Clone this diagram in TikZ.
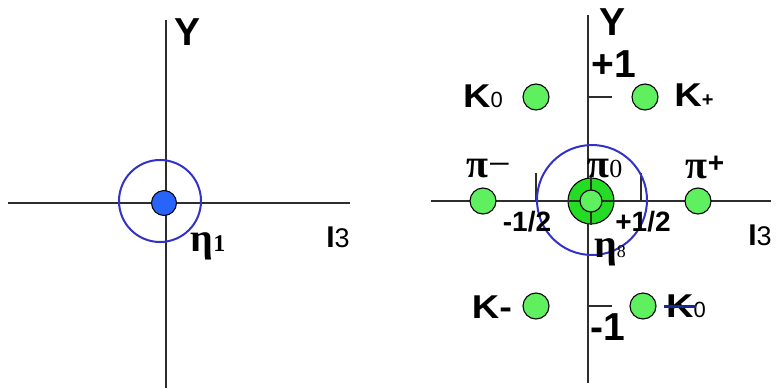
\documentclass[tikz,border=0pt]{standalone}
\usepackage{fontspec}
\setmainfont{Liberation Sans}
\newfontfamily\greekfont{Liberation Serif}
\newfontfamily\widefont[FakeStretch=1.15]{Liberation Sans}
\newfontfamily\plainfont{Liberation Sans}
\usetikzlibrary{positioning}

\definecolor{axisgray}{RGB}{45,45,45}
\definecolor{ringblue}{RGB}{50,50,200}
\definecolor{dotblue}{RGB}{40,100,250}
\definecolor{mesongreen}{RGB}{95,240,95}
\definecolor{coregreen}{RGB}{35,220,35}
\definecolor{barblue}{RGB}{20,40,150}

\newcommand{\bigf}[1]{\fontsize{#1}{#1}\selectfont}

\begin{document}
\begin{tikzpicture}[x=1pt, y=-1pt,
    axis/.style={draw=axisgray, line width=2.5pt},
    ring/.style={circle, draw=ringblue, line width=2pt, inner sep=0pt},
    meson/.style={circle, draw=black, line width=1.1pt, fill=mesongreen, minimum size=26pt, inner sep=0pt},
    lab/.style={inner sep=0pt, font=\bigf{33}\widefont\bfseries},
    axlab/.style={inner sep=0pt, font=\bigf{39}\bfseries},
    greek/.style={inner sep=0pt, font=\bigf{40}\greekfont\bfseries},
    half/.style={inner sep=0pt, font=\bigf{28}\bfseries}
  ]
  \useasboundingbox (0,0) rectangle (776,388);

  % Singlet: axes
  \coordinate (lW) at (8,203);
  \coordinate (lE) at (350,203);
  \coordinate (lN) at (166,20);
  \coordinate (lS) at (166,388);
  \draw[axis] (lW) -- (lE);
  \draw[axis] (lN) -- (lS);

  % Singlet: state
  \node[circle, draw=black, line width=1pt, fill=dotblue, minimum size=25pt, inner sep=0pt] (eta1) at (164,203) {};
  \node[ring, minimum size=82pt] (ring1) at (160,201) {};
  \node[axlab] (ylab1) at (188,32) {Y};
  \node[greek] (eta1lab) at (208,246) {η{\bigf{24}1}};
  \node[axlab] (i3lab1) at (338,237) {\bigf{30}I{\bigf{27}\mdseries 3}};

  % Octet: axes
  \coordinate (rW) at (431,201);
  \coordinate (rE) at (771,201);
  \coordinate (rN) at (588,15);
  \coordinate (rS) at (588,383);
  \draw[axis] (rW) -- (rE);
  \draw[axis] (rN) -- (rS);

  % Octet: ticks
  \coordinate (tupA) at (588,97);  \coordinate (tupB) at (612,97);
  \coordinate (tdnA) at (588,306); \coordinate (tdnB) at (612,306);
  \coordinate (tlA) at (536,173);  \coordinate (tlB) at (536,201);
  \coordinate (trA) at (641,173);  \coordinate (trB) at (641,201);
  \draw[axis] (tupA) -- (tupB);
  \draw[axis] (tdnA) -- (tdnB);
  \draw[axis] (tlA) -- (tlB);
  \draw[axis] (trA) -- (trB);

  % Octet: states
  \node[meson] (kzero) at (536,97) {};
  \node[meson] (kplus) at (645,97) {};
  \node[meson] (piminus) at (483,201) {};
  \node[meson] (piplus) at (698,201) {};
  \node[meson] (kminus) at (536,306) {};
  \node[meson] (kzerobar) at (643,306) {};
  \node[meson, fill=coregreen, minimum size=46pt] (core) at (591,201) {};
  \draw[axis] (core.north) -- (core.south);
  \draw[axis] (core.west) -- (core.east);
  \node[meson, minimum size=22pt] (coreinner) at (591,201) {};
  \node[ring, minimum size=110pt] (ring8) at (592,200) {};

  % Octet: labels
  \node[axlab] (ylab8) at (612,22) {Y};
  \node[axlab] (plusone) at (614,64) {+1};
  \node[axlab] (minusone) at (608,327) {-1};
  \node[lab] (kzerolab) at (483,96) {K{\bigf{22}\plainfont\mdseries 0}};
  \node[lab] (kpluslab) at (694,95) {K{\bigf{20}\plainfont +}};
  \node[lab] (kminuslab) at (492,307) {K-};
  \node[lab] (kzerobarlab) at (686,306) {K{\bigf{22}\plainfont\mdseries 0}};
  \node[greek] (piminuslab) at (489,169) {π{\mdseries−}};
  \node[greek] (pizerolab) at (605,169) {π{\bigf{26}\mdseries 0}};
  \node[greek] (pipluslab) at (705,167) {π\raisebox{6pt}{\bigf{28}\plainfont +}};
  \node[half] (halfminus) at (527,222) {-1/2};
  \node[half] (halfplus) at (643,222) {+1/2};
  \node[axlab] (i3lab8) at (760,235) {\bigf{30}I{\bigf{27}\mdseries 3}};
  \node[greek] (eta8lab) at (610,252) {η{\bigf{18}\mdseries 8}};

  % bar on the anti-kaon
  \coordinate (barL) at (664,306);
  \coordinate (barR) at (696,306);
  \draw[barblue, line width=3pt] (barL) -- (barR);
\end{tikzpicture}
\end{document}
